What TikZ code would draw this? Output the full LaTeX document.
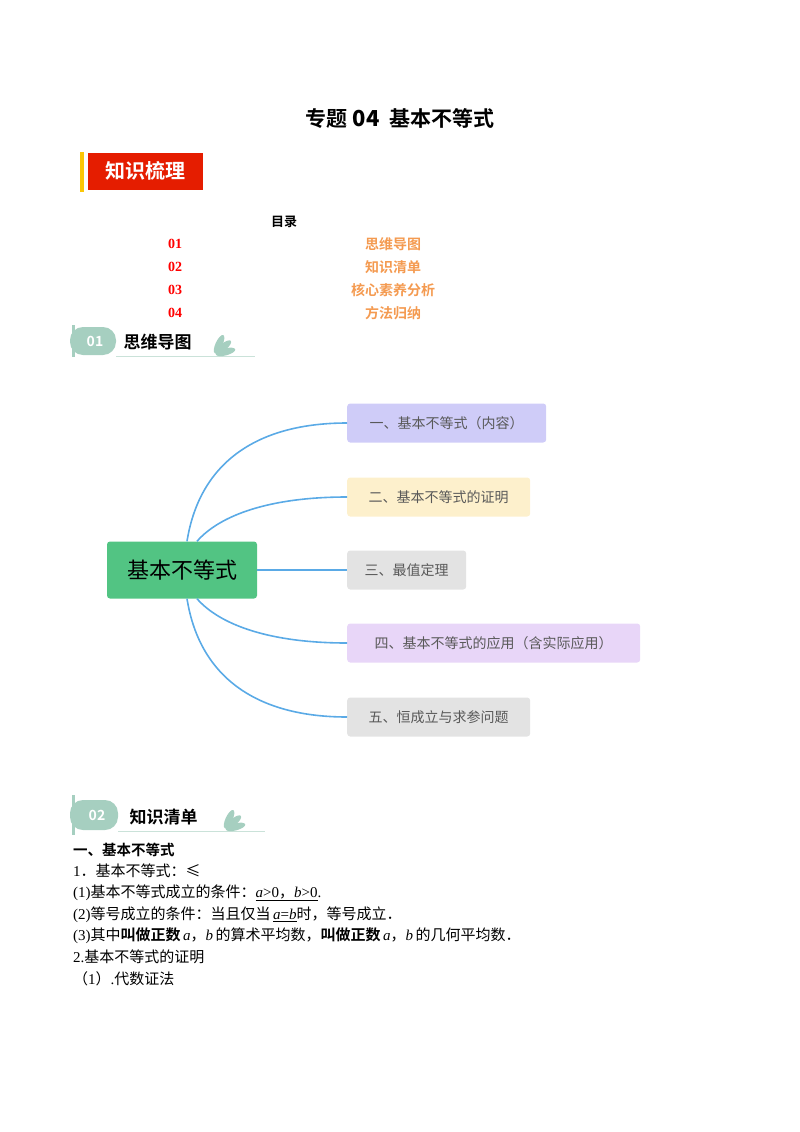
\documentclass[tikz,border=0pt]{standalone}
\usepackage{fontspec}
\setmainfont{Liberation Serif}
\newfontfamily\cjk{Noto Sans CJK SC}
\newfontfamily\cjkb{Noto Sans CJK SC Bold}
\definecolor{tocor}{HTML}{F49A50}
\definecolor{cgreen}{HTML}{52C483}
\definecolor{lav}{HTML}{CFCCF8}
\definecolor{crm}{HTML}{FDF0CC}
\definecolor{lil}{HTML}{E8D6F8}
\definecolor{gry}{HTML}{E3E3E3}
\definecolor{edgec}{HTML}{5AAAE6}
\definecolor{tabc}{HTML}{A6CFC0}
\begin{document}
\begin{tikzpicture}[x=1pt,y=-1pt,
  br/.style={rounded corners=3pt,minimum height=39pt,anchor=west,inner xsep=10pt,font=\cjk\fontsize{14}{14}\selectfont,text=black!65},
  edge/.style={draw=edgec,line width=1.6pt},
  leaf/.style={fill=tabc}]
\useasboundingbox (0,0) rectangle (800,1132);
\node[font=\cjkb\fontsize{21}{21}\selectfont] (title) at (400,118) {专题 {\bfseries\fontsize{22}{22}\selectfont 04}\ \ 基本不等式};
% header
\fill[yellow!60!orange] (80,152) rectangle (84,192);
\node[fill=red!75!orange!90!black,text=white,font=\cjkb\fontsize{20}{20}\selectfont,minimum width=115pt,minimum height=37pt,anchor=west] (h1) at (88,171) {知识梳理};
\node[font=\cjkb\fontsize{13}{13}\selectfont] (ml) at (284,222) {目录};
\foreach \n/\t [count=\i] in {01/思维导图,02/知识清单,03/核心素养分析,04/方法归纳}{
  \node[text=red,font=\bfseries\fontsize{14}{14}\selectfont] (n\i) at (175,221+23*\i) {\n};
  \node[text=tocor,font=\cjkb\fontsize{14}{14}\selectfont] (t\i) at (393,221+23*\i) {\t};
}
% section 01
\fill[tabc] (72,325) rectangle (75,357);
\fill[tabc,rounded corners=13pt] (70,327) rectangle (116,355);
\node[text=white,font=\cjkb\fontsize{14}{14}\selectfont] (s1) at (95,341) {01};
\node[font=\cjkb\fontsize{17}{17}\selectfont,anchor=west] (s1t) at (120,342) {思维导图};
\draw[tabc!60!white,line width=1pt] (116,356) -- (255,356);
\foreach \a in {15,40,65}{\fill[leaf,rotate around={\a:(214,355)}] (226,355) ellipse (10 and 3.5);}
% mind map
\node[fill=cgreen,rounded corners=3pt,minimum width=150pt,minimum height=57pt,font=\cjk\fontsize{22}{22}\selectfont] (c) at (182,570) {基本不等式};
\node[br,fill=lav,minimum width=199pt] (b1) at (347,423) {一、基本不等式（内容）};
\node[br,fill=crm,minimum width=183pt] (b2) at (347,497) {二、基本不等式的证明};
\node[br,fill=gry,minimum width=119pt] (b3) at (347,570) {三、最值定理};
\node[br,fill=lil,minimum width=293pt] (b4) at (347,643) {四、基本不等式的应用（含实际应用）};
\node[br,fill=gry,minimum width=183pt] (b5) at (347,717) {五、恒成立与求参问题};
\draw[edge] ([xshift=5pt]c.north) .. controls (200,460) and (260,423) .. (b1.west);
\draw[edge] ([xshift=15pt]c.north) .. controls (220,515) and (270,497) .. (b2.west);
\draw[edge] (c.east) -- (b3.west);
\draw[edge] ([xshift=15pt]c.south) .. controls (220,625) and (270,643) .. (b4.west);
\draw[edge] ([xshift=5pt]c.south) .. controls (200,680) and (260,717) .. (b5.west);
% section 02
\fill[tabc] (72,795) rectangle (75,835);
\fill[tabc,rounded corners=13pt] (70,800) rectangle (118,830);
\node[text=white,font=\cjkb\fontsize{14}{14}\selectfont] (s2) at (97,815) {02};
\node[font=\cjkb\fontsize{17}{17}\selectfont,anchor=west] (s2t) at (126,817) {知识清单};
\draw[tabc!60!white,line width=1pt] (118,831) -- (265,831);
\foreach \a in {15,40,65}{\fill[leaf,rotate around={\a:(224,830)}] (236,830) ellipse (10 and 3.5);}
% text
\begin{scope}[every node/.style={anchor=west,inner sep=0pt,font=\cjk\fontsize{15}{15}\selectfont}]
\node[font=\cjkb\fontsize{14.5}{15}\selectfont] (l1) at (73,850) {一、基本不等式};
\node (l2) at (73,871) {{\rmfamily 1}．基本不等式：≤};
\node (l3) at (73,893) {{\rmfamily (1)}基本不等式成立的条件：\underline{{\rmfamily\itshape a\upshape>0}，{\rmfamily\itshape b\upshape>0}}{\rmfamily .}};
\node (l4) at (73,915) {{\rmfamily (2)}等号成立的条件：当且仅当\,{\rmfamily\underline{\itshape a\upshape=\itshape b}}时，等号成立．};
\node (l5) at (73,936) {{\rmfamily (3)}其中{\cjkb 叫做正数}\,{\rmfamily\itshape a}，{\rmfamily\itshape b}\,的算术平均数，{\cjkb 叫做正数}\,{\rmfamily\itshape a}，{\rmfamily\itshape b}\,的几何平均数．};
\node (l6) at (73,957) {{\rmfamily 2.}基本不等式的证明};
\node (l7) at (73,979) {（{\rmfamily 1}）{\rmfamily .}代数证法};
\end{scope}
\end{tikzpicture}
\end{document}
